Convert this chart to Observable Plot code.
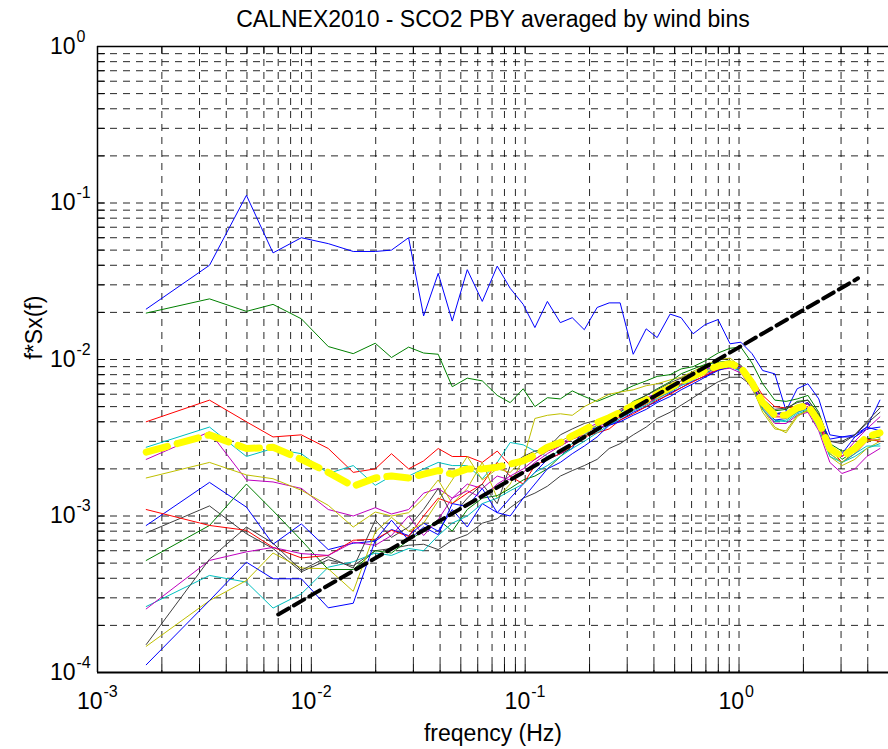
<!DOCTYPE html>
<html><head><meta charset="utf-8">
<script src="https://cdn.jsdelivr.net/npm/d3@7"></script>
<script src="https://cdn.jsdelivr.net/npm/@observablehq/plot@0.6"></script>
<style>body{margin:0;background:#fff;} #chart svg{display:block}</style>
</head><body><div id="chart"></div>
<script>
const title = "CALNEX2010 - SCO2 PBY averaged by wind bins";
const xLabel = "freqency (Hz)";
const yLabel = "f*Sx(f)";
const xMajor = [1e-3, 1e-2, 1e-1, 1];
const xExp = ["-3", "-2", "-1", "0"];
const yMajor = [1e-4, 1e-3, 1e-2, 1e-1, 1];
const yExp = ["-4", "-3", "-2", "-1", "0"];

const freq = [0.00169, 0.00334, 0.00497, 0.00662, 0.00898, 0.0120, 0.0157, 0.0199, 0.0237, 0.0285, 0.0335, 0.0392, 0.0456, 0.0536, 0.0630, 0.0740, 0.0851, 0.0979, 0.111, 0.127, 0.146, 0.166, 0.189, 0.217, 0.247, 0.278, 0.320, 0.368, 0.414, 0.476, 0.536, 0.610, 0.694, 0.798, 0.908, 1.02, 1.15, 1.29, 1.47, 1.66, 1.87, 2.10, 2.36, 2.66, 3.03, 3.48, 3.96, 4.56];

const s1 = [2.1e-2, 4.0e-2, 1.12e-1, 4.8e-2, 6.0e-2, 5.5e-2, 4.9e-2, 4.9e-2, 5.0e-2, 6.0e-2, 1.9e-2, 3.55e-2, 1.76e-2, 3.75e-2, 2.35e-2, 3.95e-2, 2.85e-2, 2.25e-2, 1.6e-2, 2.35e-2, 1.72e-2, 1.85e-2, 1.55e-2, 2.15e-2, 2.3e-2, 2.3e-2, 1.08e-2, 1.57e-2, 1.38e-2, 1.95e-2, 1.85e-2, 1.46e-2, 1.67e-2, 1.8e-2, 1.26e-2, 1.29e-2, 1.09e-2, 8.5e-3, 8.1e-3, 4.7e-3, 6.5e-3, 7.0e-3, 5.6e-3, 3.3e-3, 3.2e-3, 3.3e-3, 3.7e-3, 5.5e-3];
const s2 = [1.98e-2, 2.44e-2, 2.03e-2, 2.25e-2, 1.82e-2, 1.21e-2, 1.09e-2, 1.27e-2, 1.03e-2, 1.2e-2, 1.1e-2, 1.08e-2, 6.7e-3, 7.6e-3, 7.3e-3, 5.9e-3, 5.3e-3, 6.5e-3, 5.0e-3, 5.7e-3, 5.6e-3, 6.3e-3, 5.8e-3, 5.4e-3, 5.8e-3, 6.2e-3, 6.8e-3, 7.3e-3, 7.8e-3, 8.0e-3, 8.7e-3, 9.0e-3, 9.8e-3, 1.1e-2, 1.18e-2, 1.2e-2, 9.5e-3, 7.0e-3, 5.5e-3, 5.4e-3, 5.6e-3, 5.9e-3, 4.6e-3, 2.9e-3, 2.6e-3, 2.7e-3, 3.1e-3, 3.2e-3];
const s3 = [4.0e-3, 5.5e-3, 4.0e-3, 3.2e-3, 3.3e-3, 2.7e-3, 1.9e-3, 2.0e-3, 2.5e-3, 2.0e-3, 2.25e-3, 2.7e-3, 2.4e-3, 2.4e-3, 2.2e-3, 2.6e-3, 2.1e-3, 2.2e-3, 2.3e-3, 2.6e-3, 2.8e-3, 3.1e-3, 3.3e-3, 3.6e-3, 3.9e-3, 4.3e-3, 4.8e-3, 5.2e-3, 5.7e-3, 6.2e-3, 7.0e-3, 7.6e-3, 8.2e-3, 8.9e-3, 9.6e-3, 9.0e-3, 7.6e-3, 5.9e-3, 5.0e-3, 4.9e-3, 5.0e-3, 5.3e-3, 4.1e-3, 2.7e-3, 2.2e-3, 2.5e-3, 3.0e-3, 3.1e-3];
const s4 = [2.75e-3, 3.7e-3, 2.4e-3, 2.7e-3, 2.5e-3, 1.87e-3, 2.1e-3, 1.57e-3, 1.8e-3, 1.8e-3, 2.0e-3, 2.2e-3, 2.1e-3, 2.1e-3, 1.73e-3, 2.2e-3, 2.95e-3, 2.85e-3, 2.6e-3, 2.4e-3, 2.6e-3, 2.9e-3, 3.3e-3, 3.8e-3, 4.2e-3, 4.6e-3, 5.2e-3, 5.5e-3, 6.1e-3, 6.6e-3, 7.3e-3, 7.8e-3, 8.5e-3, 9.2e-3, 9.3e-3, 8.6e-3, 6.8e-3, 5.0e-3, 4.1e-3, 4.0e-3, 4.5e-3, 4.7e-3, 3.7e-3, 2.5e-3, 2.2e-3, 2.4e-3, 2.7e-3, 2.9e-3];
const s5 = [2.3e-3, 3.45e-3, 1.7e-3, 1.65e-3, 1.5e-3, 1.1e-3, 1.0e-3, 1.13e-3, 1.03e-3, 1.1e-3, 1.4e-3, 1.5e-3, 1.3e-3, 1.6e-3, 1.5e-3, 1.8e-3, 1.7e-3, 1.9e-3, 2.2e-3, 2.5e-3, 2.8e-3, 3.1e-3, 3.4e-3, 3.7e-3, 4.0e-3, 4.4e-3, 4.8e-3, 5.2e-3, 5.7e-3, 6.3e-3, 6.9e-3, 7.5e-3, 8.1e-3, 8.6e-3, 8.8e-3, 8.2e-3, 6.5e-3, 4.8e-3, 3.9e-3, 3.9e-3, 4.4e-3, 4.6e-3, 3.5e-3, 2.2e-3, 1.87e-3, 2.0e-3, 2.4e-3, 2.7e-3];
const s6 = [1.75e-3, 2.2e-3, 1.83e-3, 1.73e-3, 1.46e-3, 1.17e-3, 8.5e-4, 1.06e-3, 1.0e-3, 1.05e-3, 1.3e-3, 1.7e-3, 1.2e-3, 1.5e-3, 2.2e-3, 1.3e-3, 1.6e-3, 2.3e-3, 4.2e-3, 4.4e-3, 4.5e-3, 4.4e-3, 5.0e-3, 5.5e-3, 6.0e-3, 6.2e-3, 6.4e-3, 6.8e-3, 7.0e-3, 7.4e-3, 7.7e-3, 8.4e-3, 9.2e-3, 1.0e-2, 1.02e-2, 9.0e-3, 6.9e-3, 4.8e-3, 3.7e-3, 3.4e-3, 4.3e-3, 4.8e-3, 3.7e-3, 2.4e-3, 2.1e-3, 2.3e-3, 2.7e-3, 3.0e-3];
const s7 = [7.8e-4, 1.16e-3, 7.7e-4, 6.2e-4, 4.4e-4, 5.25e-4, 4.8e-4, 6.0e-4, 6.2e-4, 6.5e-4, 6.6e-4, 6.1e-4, 7.0e-4, 7.6e-4, 9.0e-4, 9.6e-4, 1.13e-3, 1.3e-3, 1.4e-3, 1.55e-3, 1.8e-3, 1.95e-3, 2.1e-3, 2.3e-3, 2.7e-3, 2.9e-3, 3.3e-3, 3.7e-3, 4.2e-3, 4.6e-3, 5.1e-3, 5.7e-3, 6.4e-3, 7.2e-3, 7.7e-3, 7.7e-3, 6.8e-3, 5.2e-3, 4.5e-3, 4.6e-3, 5.0e-3, 5.2e-3, 4.3e-3, 3.0e-3, 2.9e-3, 3.3e-3, 4.0e-3, 4.9e-3];
const s8 = [8.7e-4, 1.64e-3, 1.14e-3, 6.6e-4, 8.9e-4, 6.1e-4, 6.7e-4, 6.9e-4, 8.2e-4, 7.5e-4, 9.0e-4, 8.0e-4, 1.1e-3, 8.5e-4, 1.2e-3, 1.05e-3, 1.3e-3, 1.6e-3, 1.9e-3, 2.3e-3, 2.5e-3, 2.7e-3, 3.7e-3, 3.6e-3, 3.8e-3, 4.1e-3, 4.6e-3, 5.0e-3, 5.4e-3, 6.1e-3, 6.6e-3, 7.3e-3, 7.8e-3, 8.6e-3, 9.0e-3, 8.5e-3, 6.6e-3, 4.9e-3, 4.1e-3, 4.2e-3, 4.6e-3, 4.9e-3, 3.8e-3, 2.6e-3, 2.5e-3, 3.2e-3, 3.6e-3, 3.7e-3];
const s9 = [5.2e-4, 8.7e-4, 1.6e-3, 1.08e-3, 7.0e-4, 4.55e-4, 4.55e-4, 6.0e-4, 5.8e-4, 7.0e-4, 8.0e-4, 9.5e-4, 8.0e-4, 1.1e-3, 1.3e-3, 1.35e-3, 1.5e-3, 1.7e-3, 1.8e-3, 2.0e-3, 2.4e-3, 2.8e-3, 3.2e-3, 3.7e-3, 4.2e-3, 4.6e-3, 5.4e-3, 5.9e-3, 6.5e-3, 7.2e-3, 8.1e-3, 8.7e-3, 9.3e-3, 9.6e-3, 9.8e-3, 9.2e-3, 7.4e-3, 5.6e-3, 4.7e-3, 4.8e-3, 5.4e-3, 5.5e-3, 4.4e-3, 2.8e-3, 2.3e-3, 2.6e-3, 3.1e-3, 3.3e-3];
const s10 = [1.1e-3, 8.7e-4, 8.1e-4, 6.3e-4, 5.4e-4, 5.6e-4, 7.0e-4, 7.1e-4, 8.1e-4, 7.4e-4, 1.0e-3, 1.3e-3, 1.2e-3, 1.4e-3, 1.6e-3, 2.2e-3, 1.8e-3, 1.6e-3, 2.1e-3, 2.3e-3, 2.5e-3, 2.8e-3, 3.2e-3, 3.4e-3, 3.6e-3, 4.1e-3, 4.5e-3, 5.0e-3, 5.5e-3, 6.0e-3, 6.6e-3, 7.2e-3, 7.9e-3, 8.6e-3, 9.1e-3, 8.7e-3, 7.0e-3, 5.2e-3, 4.3e-3, 4.3e-3, 4.8e-3, 5.0e-3, 3.9e-3, 2.6e-3, 2.4e-3, 2.8e-3, 3.1e-3, 3.0e-3];
const s11 = [2.64e-4, 4.17e-4, 3.78e-4, 2.58e-4, 3.18e-4, 4.71e-4, 5.1e-4, 5.8e-4, 5.6e-4, 6.2e-4, 6.0e-4, 7.5e-4, 9.0e-4, 1.0e-3, 1.2e-3, 1.3e-3, 1.45e-3, 1.6e-3, 1.9e-3, 2.1e-3, 2.4e-3, 2.7e-3, 3.0e-3, 3.4e-3, 3.8e-3, 4.2e-3, 4.7e-3, 5.1e-3, 5.6e-3, 6.2e-3, 6.8e-3, 7.4e-3, 8.2e-3, 8.8e-3, 9.0e-3, 8.4e-3, 6.6e-3, 4.8e-3, 4.0e-3, 4.1e-3, 4.6e-3, 4.8e-3, 3.6e-3, 2.4e-3, 2.2e-3, 2.5e-3, 2.8e-3, 2.8e-3];
const s12 = [2.55e-4, 5.2e-4, 5.9e-4, 6.3e-4, 5.75e-4, 5.6e-4, 6.8e-4, 6.5e-4, 7.5e-4, 1.0e-3, 7.5e-4, 9.5e-4, 1.3e-3, 1.45e-3, 1.3e-3, 1.6e-3, 1.8e-3, 2.0e-3, 2.3e-3, 2.6e-3, 2.9e-3, 3.2e-3, 3.6e-3, 3.9e-3, 4.3e-3, 4.7e-3, 5.2e-3, 5.7e-3, 6.1e-3, 6.7e-3, 7.3e-3, 7.9e-3, 8.6e-3, 9.3e-3, 9.6e-3, 9.1e-3, 7.3e-3, 5.4e-3, 4.4e-3, 4.5e-3, 5.0e-3, 5.2e-3, 4.2e-3, 2.7e-3, 2.4e-3, 3.0e-3, 3.6e-3, 4.3e-3];
const s13 = [1.47e-4, 2.88e-4, 3.87e-4, 5.8e-4, 4.65e-4, 4.6e-4, 3.3e-4, 7.9e-4, 9.8e-4, 8.0e-4, 9.0e-4, 1.25e-3, 1.7e-3, 2.4e-3, 1.7e-3, 2.0e-3, 1.9e-3, 2.3e-3, 2.5e-3, 2.8e-3, 3.0e-3, 3.3e-3, 3.5e-3, 3.8e-3, 4.1e-3, 4.5e-3, 5.0e-3, 5.5e-3, 6.0e-3, 6.5e-3, 7.0e-3, 7.7e-3, 8.4e-3, 9.0e-3, 9.2e-3, 8.6e-3, 6.7e-3, 4.6e-3, 3.6e-3, 3.5e-3, 4.4e-3, 4.7e-3, 3.7e-3, 2.5e-3, 2.2e-3, 2.6e-3, 3.0e-3, 3.1e-3];
const s14 = [1.51e-4, 5.3e-4, 8.5e-4, 6.7e-4, 4.5e-4, 5.5e-4, 4.65e-4, 9.4e-4, 7.3e-4, 8.5e-4, 1.1e-3, 1.5e-3, 1.0e-3, 1.3e-3, 1.6e-3, 1.2e-3, 2.1e-3, 2.4e-3, 2.6e-3, 2.7e-3, 3.3e-3, 3.6e-3, 3.9e-3, 4.1e-3, 4.3e-3, 4.8e-3, 5.3e-3, 5.9e-3, 6.4e-3, 7.1e-3, 7.6e-3, 8.2e-3, 8.8e-3, 9.4e-3, 9.5e-3, 8.9e-3, 7.2e-3, 5.6e-3, 4.8e-3, 4.9e-3, 5.3e-3, 5.5e-3, 4.5e-3, 3.0e-3, 3.0e-3, 3.3e-3, 3.9e-3, 4.6e-3];
const s15 = [1.12e-4, 2.88e-4, 5.07e-4, 3.97e-4, 3.97e-4, 2.59e-4, 2.77e-4, 7.0e-4, 9.4e-4, 7.0e-4, 8.5e-4, 7.6e-4, 1.2e-3, 1.15e-3, 1.5e-3, 1.05e-3, 1.0e-3, 1.3e-3, 1.6e-3, 2.0e-3, 2.2e-3, 2.5e-3, 2.8e-3, 3.2e-3, 3.8e-3, 4.0e-3, 4.4e-3, 4.8e-3, 5.3e-3, 5.8e-3, 6.4e-3, 7.0e-3, 7.7e-3, 8.5e-3, 9.0e-3, 8.8e-3, 7.0e-3, 5.1e-3, 4.5e-3, 4.6e-3, 5.1e-3, 5.3e-3, 4.3e-3, 3.1e-3, 3.2e-3, 3.2e-3, 3.7e-3, 3.5e-3];
const meanSpec = [2.56e-3, 3.3e-3, 2.7e-3, 2.75e-3, 2.3e-3, 1.9e-3, 1.55e-3, 1.75e-3, 1.8e-3, 1.75e-3, 1.85e-3, 1.95e-3, 1.85e-3, 2.0e-3, 2.0e-3, 2.05e-3, 2.15e-3, 2.25e-3, 2.45e-3, 2.75e-3, 2.95e-3, 3.25e-3, 3.55e-3, 3.95e-3, 4.25e-3, 4.6e-3, 5.1e-3, 5.5e-3, 6.0e-3, 6.6e-3, 7.2e-3, 7.8e-3, 8.5e-3, 9.1e-3, 9.4e-3, 8.9e-3, 7.1e-3, 5.3e-3, 4.4e-3, 4.4e-3, 4.9e-3, 5.1e-3, 4.0e-3, 2.7e-3, 2.4e-3, 2.7e-3, 3.2e-3, 3.4e-3];
const fitF = [0.007, 3.6];
const fitV = [2.35e-4, 3.3e-2];

const seriesList = [s1, s2, s3, s4, s5, s6, s7, s8, s9, s10, s11, s12, s13, s14, s15];
const seriesColors = ["#0000ff", "#008000", "#ff0000", "#00bfbf", "#bf00bf", "#bfbf00", "#404040",
                      "#0000ff", "#008000", "#ff0000", "#00bfbf", "#bf00bf", "#bfbf00", "#404040", "#0000ff"];

const W = 888, H = 749, ML = 97, MR = 0, MT = 46, MB = 77;
const frameW = W - ML - MR, frameH = H - MT - MB;
const xDomain = [1e-3, 5], yDomain = [1e-4, 1];
const xMinor = d3.scaleLog().domain(xDomain).ticks().filter(t => t > xDomain[0] * 1.001 && t < xDomain[1] * 0.999);
const yMinor = d3.scaleLog().domain(yDomain).ticks().filter(t => t > yDomain[0] * 1.001 && t < yDomain[1] * 0.999);
const pairs = (fs, vs) => fs.map((f, i) => ({f, v: vs[i]}));

const font = "'Liberation Sans', Arial, Helvetica, sans-serif";
const chart = Plot.plot({
  width: W, height: H,
  marginLeft: ML, marginRight: MR, marginTop: MT, marginBottom: MB,
  style: {fontFamily: font, background: "#fff", color: "#000", overflow: "visible"},
  x: {type: "log", domain: xDomain, axis: null},
  y: {type: "log", domain: yDomain, axis: null},
  marks: [
    // dashed grid
    Plot.ruleX(xMinor, {stroke: "#000", strokeWidth: 1, strokeOpacity: 0.85, strokeDasharray: "7,6"}),
    Plot.ruleY(yMinor, {stroke: "#000", strokeWidth: 1, strokeOpacity: 0.85, strokeDasharray: "7,6"}),
    // inward ticks
    Plot.ruleY(yMinor, {stroke: "#000", strokeWidth: 1, insetRight: frameW - 8}),
    Plot.ruleX(xMinor, {stroke: "#000", strokeWidth: 1, insetTop: frameH - 8}),
    Plot.ruleX(xMinor, {stroke: "#000", strokeWidth: 1, insetBottom: frameH - 8}),
    // data series
    ...seriesList.map((s, k) => Plot.line(pairs(freq, s), {x: "f", y: "v", stroke: seriesColors[k], strokeWidth: 1, clip: true})),
    Plot.line(pairs(freq, meanSpec), {x: "f", y: "v", stroke: "#ffff00", strokeWidth: 7, strokeDasharray: "22,10", clip: true}),
    Plot.line(pairs(fitF, fitV), {x: "f", y: "v", stroke: "#000", strokeWidth: 4, strokeDasharray: "12,6", clip: true}),
    // axes box (left, top, bottom)
    Plot.ruleX([xDomain[0]], {stroke: "#000", strokeWidth: 1.5}),
    Plot.ruleY([yDomain[1]], {stroke: "#000", strokeWidth: 1.5}),
    Plot.ruleY([yDomain[0]], {stroke: "#000", strokeWidth: 2}),
    // tick labels
    Plot.text(xMajor, {x: d => d, text: () => "10", frameAnchor: "bottom", textAnchor: "end", lineAnchor: "bottom", dx: 5, dy: 36, fontSize: 23}),
    Plot.text(xMajor, {x: d => d, text: (d, i) => xExp[i], frameAnchor: "bottom", textAnchor: "start", lineAnchor: "bottom", dx: 6, dy: 24, fontSize: 16}),
    Plot.text(yMajor, {y: d => d, text: () => "10", frameAnchor: "left", textAnchor: "end", lineAnchor: "bottom", dx: -22, dy: 7, fontSize: 23}),
    Plot.text(yMajor, {y: d => d, text: (d, i) => yExp[i], frameAnchor: "left", textAnchor: "start", lineAnchor: "bottom", dx: -21, dy: -5, fontSize: 16}),
    // labels
    Plot.text([yLabel], {frameAnchor: "left", rotate: -90, lineAnchor: "bottom", dx: -56, fontSize: 23}),
    Plot.text([xLabel], {frameAnchor: "bottom", lineAnchor: "bottom", dy: 68, fontSize: 23}),
    Plot.text([title], {frameAnchor: "top", lineAnchor: "bottom", dy: -20, fontSize: 23})
  ]
});
document.getElementById("chart").appendChild(chart);
</script></body></html>
